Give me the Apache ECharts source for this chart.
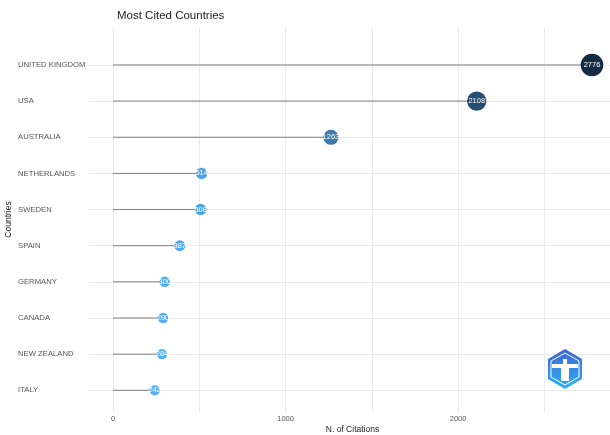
<!DOCTYPE html>
<html>
<head>
<meta charset="utf-8">
<script src="https://cdn.jsdelivr.net/npm/echarts@6/dist/echarts.min.js"></script>
<style>html,body{margin:0;padding:0;background:#fff}#c{width:610px;height:435px}</style>
</head>
<body>
<div id="c"></div>
<script>
const countries = ['UNITED KINGDOM','USA','AUSTRALIA','NETHERLANDS','SWEDEN','SPAIN','GERMANY','CANADA','NEW ZEALAND','ITALY'];
const citations = [2776,2108,1263,514,508,387,300,290,284,242];
const xTicks = [0,500,1000,1500,2000,2500];
const xLabels = [0,1000,2000];
const rowIdx = countries.map((c,i)=>i);

const chart = echarts.init(document.getElementById('c'), null, {renderer:'canvas'});
const FONT = '"Liberation Sans", Arial, sans-serif';
const points = citations.map((v,i)=>[v,i]);

chart.setOption({
  animation:false,
  backgroundColor:'#ffffff',
  title:{text:'Most Cited Countries', left:117, top:10, padding:0,
    textStyle:{fontFamily:FONT, fontSize:11.5, fontWeight:'normal', color:'#222'}},
  grid:{left:89, right:-6, top:27, bottom:23, containLabel:false, outerBoundsMode:'none'},
  xAxis:{type:'value', min:-139, max:2915,
    name:'N. of Citations', nameLocation:'middle', nameGap:13, nameMoveOverlap:false,
    nameTextStyle:{fontFamily:FONT, fontSize:8.5, color:'#222'},
    axisLine:{show:false},
    axisTick:{show:false, customValues:xTicks},
    axisLabel:{customValues:xLabels, margin:3, fontFamily:FONT, fontSize:7.5, color:'#555',
      formatter:v=>String(v)},
    splitLine:{show:true, lineStyle:{color:'#ebebeb', width:1}}
  },
  yAxis:{type:'value', inverse:true, min:-1.05, max:9.6,
    name:'Countries', nameLocation:'middle', nameGap:76, nameRotate:90, nameMoveOverlap:false,
    nameTextStyle:{fontFamily:FONT, fontSize:8.5, color:'#222'},
    axisLine:{show:false},
    axisTick:{show:false, customValues:rowIdx},
    axisLabel:{customValues:rowIdx, align:'left', margin:71, fontFamily:FONT, fontSize:7.7, color:'#555',
      formatter:v=>countries[Math.round(v)]},
    splitLine:{show:true, lineStyle:{color:'#ebebeb', width:1}}
  },
  visualMap:{show:false, type:'continuous', seriesIndex:1, dimension:0,
    min:Math.min(...citations), max:Math.max(...citations),
    inRange:{color:['#56B1F7','#132B43']}},
  series:[
    {type:'custom', data:points, z:2,
      renderItem:(params, api)=>{
        const p0 = api.coord([0, api.value(1)]);
        const p1 = api.coord([api.value(0), api.value(1)]);
        return {type:'line', shape:{x1:p0[0], y1:p0[1], x2:p1[0], y2:p1[1]},
          style:{stroke:'#7f7f7f', lineWidth:1}};
      },
      encode:{x:0, y:1}
    },
    {type:'scatter', data:points, z:3,
      symbolSize:d=>9 + d[0]*0.0049,
      itemStyle:{opacity:1},
      label:{show:true, position:'inside', formatter:p=>String(p.value[0]),
        fontFamily:FONT, fontSize:7.5, color:'#ffffff'}
    }
  ],
  graphic:[
    {type:'polygon', shape:{points:[[565,349],[582,359],[582,379],[565,389],[548,379],[548,359]]},
      style:{fill:new echarts.graphic.LinearGradient(0,0,0,1,[{offset:0,color:'#3f63d3'},{offset:1,color:'#2bb5f5'}])}, z:10},
    {type:'polygon', shape:{points:[[565,353],[579,361],[579,377],[565,385],[551,377],[551,361]]},
      style:{fill:'none', stroke:'#ffffff', lineWidth:1}, z:11},
    {type:'rect', shape:{x:552, y:364, width:26, height:4}, style:{fill:'#ffffff'}, z:11},
    {type:'rect', shape:{x:561, y:368, width:8, height:13}, style:{fill:'#ffffff'}, z:11},
    {type:'rect', shape:{x:563, y:359, width:4, height:5}, style:{fill:'#ffffff'}, z:11}
  ]
});
</script>
</body>
</html>
